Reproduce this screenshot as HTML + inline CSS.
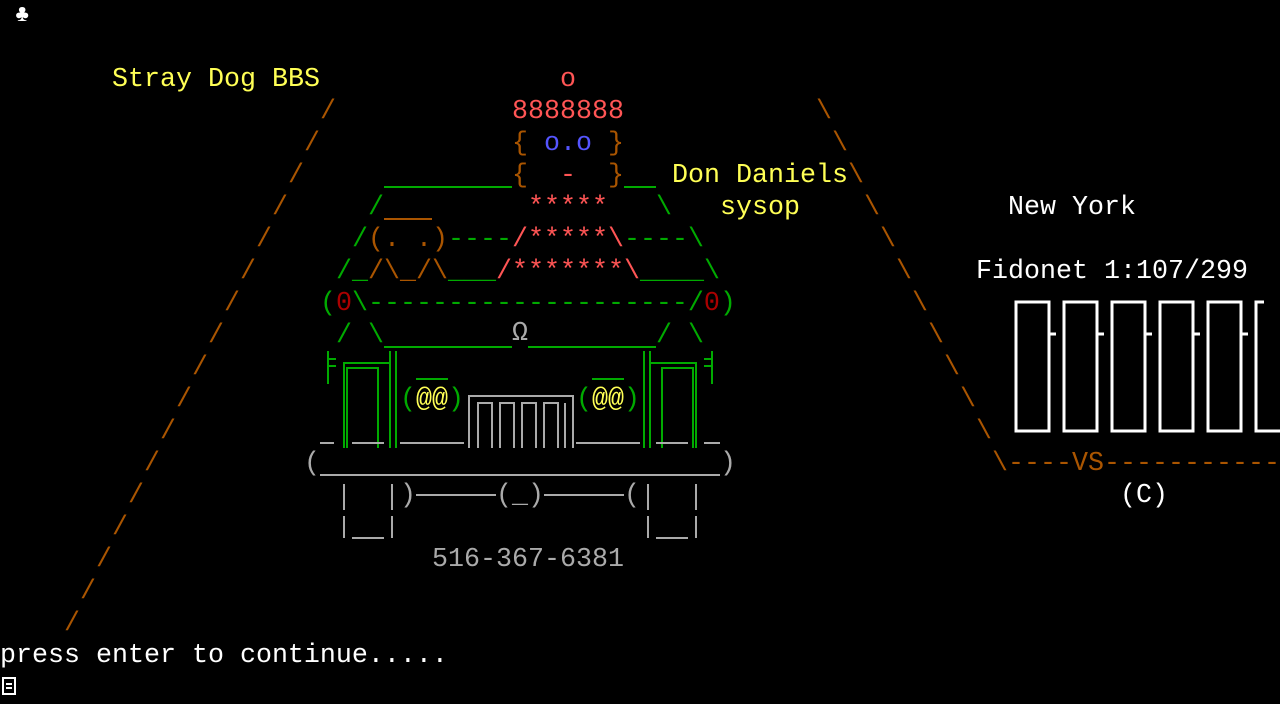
<!DOCTYPE html>
<html><head><meta charset="utf-8"><style>
html,body{margin:0;padding:0;background:#000;width:1280px;height:704px;overflow:hidden;position:relative}
.t{position:absolute;font-family:"Liberation Mono","DejaVu Sans Mono",monospace;font-size:26.67px;line-height:32px;height:32px;white-space:pre;letter-spacing:0}
.y{color:#ffff55}.r{color:#ff5555}.o{color:#aa5500}.b{color:#5555ff}.g{color:#00aa00}.d{color:#aa0000}.a{color:#aaaaaa}.w{color:#ffffff}
svg{position:absolute;left:0;top:0}
</style></head><body>
<div class="t w" style="left:15px;top:0px;font-size:24px">♣</div>
<div class="t y" style="left:112px;top:64px">Stray Dog BBS</div>
<div class="t r" style="left:560px;top:64px">o</div>
<div class="t r" style="left:512px;top:96px">8888888</div>
<div class="t o" style="left:512px;top:128px">{ <span class="b">o.o</span> }</div>
<div class="t o" style="left:512px;top:160px">{  <span class="r">-</span>  }</div>
<div class="t y" style="left:672px;top:160px">Don Daniels</div>
<div class="t r" style="left:528px;top:192px">*****</div>
<div class="t y" style="left:720px;top:192px">sysop</div>
<div class="t w" style="left:1008px;top:192px">New York</div>
<div class="t" style="left:352px;top:224px"><span class="g">/</span><span class="o">(. .)</span><span class="g">----</span><span class="r">/*****\</span><span class="g">----\</span></div>
<div class="t" style="left:336px;top:256px"><span class="g">/_</span><span class="o">/\_/\</span><span class="g">___</span><span class="r">/*******\</span><span class="g">____\</span></div>
<div class="t w" style="left:976px;top:256px">Fidonet 1:107/299</div>
<div class="t" style="left:320px;top:288px"><span class="g">(</span><span class="d">0</span><span class="g">\--------------------/</span><span class="d">0</span><span class="g">)</span></div>
<div class="t" style="left:336px;top:320px"><span class="g">/ \</span></div>
<div class="t" style="left:656px;top:320px"><span class="g">/ \</span></div>
<div class="t a" style="left:512px;top:318px">Ω</div>
<div class="t" style="left:400px;top:384px"><span class="g">(</span><span class="y">@@</span><span class="g">)</span></div>
<div class="t" style="left:576px;top:384px"><span class="g">(</span><span class="y">@@</span><span class="g">)</span></div>
<div class="t a" style="left:304px;top:448px">(</div>
<div class="t a" style="left:720px;top:448px">)</div>
<div class="t a" style="left:400px;top:480px">)</div>
<div class="t a" style="left:496px;top:480px">(_)</div>
<div class="t a" style="left:624px;top:480px">(</div>
<div class="t a" style="left:432px;top:544px">516-367-6381</div>
<div class="t o" style="left:992px;top:448px">\----<span>VS</span>-----------</div>
<div class="t w" style="left:1120px;top:480px">(C)</div>
<div class="t w" style="left:0px;top:640px">press enter to continue.....</div>
<div class="t o" style="left:320px;top:96px">/</div>
<div class="t o" style="left:304px;top:128px">/</div>
<div class="t o" style="left:288px;top:160px">/</div>
<div class="t o" style="left:272px;top:192px">/</div>
<div class="t o" style="left:256px;top:224px">/</div>
<div class="t o" style="left:240px;top:256px">/</div>
<div class="t o" style="left:224px;top:288px">/</div>
<div class="t o" style="left:208px;top:320px">/</div>
<div class="t o" style="left:192px;top:352px">/</div>
<div class="t o" style="left:176px;top:384px">/</div>
<div class="t o" style="left:160px;top:416px">/</div>
<div class="t o" style="left:144px;top:448px">/</div>
<div class="t o" style="left:128px;top:480px">/</div>
<div class="t o" style="left:112px;top:512px">/</div>
<div class="t o" style="left:96px;top:544px">/</div>
<div class="t o" style="left:80px;top:576px">/</div>
<div class="t o" style="left:64px;top:608px">/</div>
<div class="t o" style="left:816px;top:96px">\</div>
<div class="t o" style="left:832px;top:128px">\</div>
<div class="t o" style="left:848px;top:160px">\</div>
<div class="t o" style="left:864px;top:192px">\</div>
<div class="t o" style="left:880px;top:224px">\</div>
<div class="t o" style="left:896px;top:256px">\</div>
<div class="t o" style="left:912px;top:288px">\</div>
<div class="t o" style="left:928px;top:320px">\</div>
<div class="t o" style="left:944px;top:352px">\</div>
<div class="t o" style="left:960px;top:384px">\</div>
<div class="t o" style="left:976px;top:416px">\</div>
<div class="t g" style="left:368px;top:192px">/</div>
<div class="t g" style="left:656px;top:192px">\</div>
<svg width="1280" height="704" viewBox="0 0 1280 704">
<g stroke="#00aa00" stroke-width="2" fill="none">
<path d="M384 187H512M624 187H656"/>
<path d="M384 347H512M528 347H656"/>
<path d="M416 379H448M592 379H624"/>
<path d="M328 351V384M328 359H336M328 366H336"/>
<path d="M712 351V384M712 359H704M712 366H704"/>
<path d="M344 448V363H390M347 448V368H378V448M390 351V448M396 351V448"/>
<path d="M696 448V363H650M693 448V368H662V448M650 351V448M644 351V448"/>
</g>
<path d="M384 219H432" stroke="#aa5500" stroke-width="2"/>
<g stroke="#aaaaaa" stroke-width="2" fill="none">
<path d="M469 448V396H573V448"/>
<path d="M478 448V403H492V448M500 448V403H514V448M522 448V403H536V448M544 448V403H558V448M565 448V403"/>
<path d="M320 443H334M352 443H384M400 443H464M576 443H640M656 443H688M704 443H720"/>
<path d="M320 475H720"/>
<path d="M344 484V510M392 484V510M648 484V510M696 484V510"/>
<path d="M416 495H496M544 495H624"/>
<path d="M344 516V538M392 516V538M648 516V538M696 516V538M352 538H384M656 538H688"/>
</g>
<g stroke="#ffffff" stroke-width="3" fill="none">
<path d="M1016 302H1049V431H1016ZM1049 334H1056"/>
<path d="M1064 302H1097V431H1064ZM1097 334H1104"/>
<path d="M1112 302H1145V431H1112ZM1145 334H1152"/>
<path d="M1160 302H1193V431H1160ZM1193 334H1200"/>
<path d="M1208 302H1241V431H1208ZM1241 334H1248"/>
<path d="M1264 302H1256V431H1280"/>
</g>
<rect x="3" y="678" width="12" height="16" fill="none" stroke="#fff" stroke-width="2"/>
<path d="M6 684H12M6 688H12" stroke="#fff" stroke-width="2"/>
</svg>
</body></html>
